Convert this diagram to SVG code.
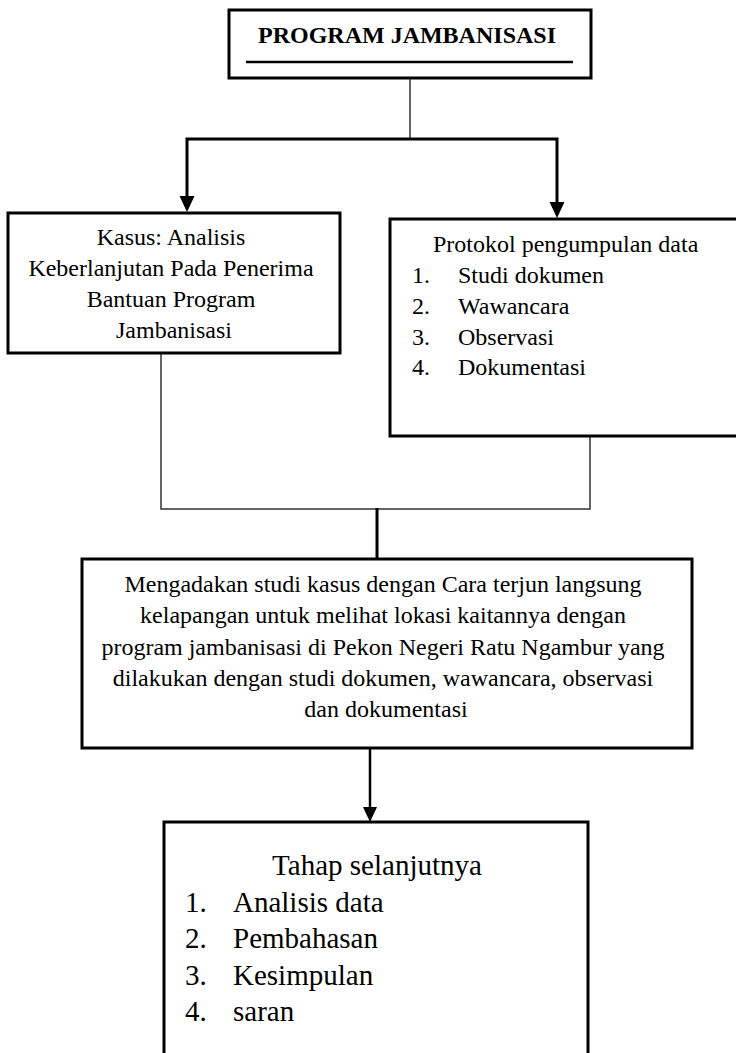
<svg xmlns="http://www.w3.org/2000/svg" width="736" height="1053" viewBox="0 0 736 1053">
<defs>
<style>
.box{fill:#fff;stroke:#000;stroke-width:3}
.t{font-family:"Liberation Serif","Times New Roman",serif;font-size:24px;fill:#000}
.tb{font-family:"Liberation Serif","Times New Roman",serif;font-size:24px;font-weight:bold;fill:#000}
.tl{font-family:"Liberation Serif","Times New Roman",serif;font-size:29px;fill:#000}
.thin{fill:none;stroke:#333;stroke-width:1.5}
.thick{fill:none;stroke:#000;stroke-width:3}
</style>
<marker id="ah" markerWidth="6" markerHeight="6" refX="5" refY="3" orient="auto" markerUnits="strokeWidth">
<path d="M0,0 L5,3 L0,6 Z" fill="#000"/>
</marker>
</defs>
<rect width="736" height="1053" fill="#fff"/>
<g id="connectors">
<line class="thin" x1="410" y1="62" x2="410" y2="140"/>
<polyline class="thick" points="187,196 187,139 557,139 557,202"/>
<path d="M179.5,196 L194.5,196 L187,212 Z" fill="#000"/>
<path d="M549.5,202 L564.5,202 L557,218 Z" fill="#000"/>
<polyline class="thin" points="161,353 161,509 590,509 590,436"/>
<line class="thick" x1="377" y1="508" x2="377" y2="559"/>
<line x1="370" y1="748" x2="370" y2="808" stroke="#000" stroke-width="2.5"/>
<path d="M363,807 L377,807 L370,822 Z" fill="#000"/>
</g>
<g id="node-program">
<rect class="box" x="229" y="10" width="362" height="68"/>
<text class="tb" x="407" y="43" text-anchor="middle">PROGRAM JAMBANISASI</text>
<line x1="246" y1="62" x2="573" y2="62" stroke="#000" stroke-width="2.5"/>
</g>
<g id="node-kasus">
<rect class="box" x="8" y="213" width="332" height="140"/>
<text class="t" text-anchor="middle">
<tspan x="174" y="245">Kasus: Analisis</tspan>
<tspan x="174" y="276">Keberlanjutan Pada Penerima</tspan>
<tspan x="174" y="307">Bantuan Program</tspan>
<tspan x="174" y="338">Jambanisasi</tspan>
</text>
</g>
<g id="node-protokol">
<rect class="box" x="390" y="219" width="360" height="217"/>
<text class="t" x="433" y="252">Protokol pengumpulan data</text>
<text class="t"><tspan x="412" y="283">1.</tspan><tspan x="458" y="283">Studi dokumen</tspan></text>
<text class="t"><tspan x="412" y="314">2.</tspan><tspan x="458" y="314">Wawancara</tspan></text>
<text class="t"><tspan x="412" y="345">3.</tspan><tspan x="458" y="345">Observasi</tspan></text>
<text class="t"><tspan x="412" y="375">4.</tspan><tspan x="458" y="375">Dokumentasi</tspan></text>
</g>
<g id="node-studi-kasus">
<rect class="box" x="82" y="559" width="610" height="189"/>
<text class="t" text-anchor="middle">
<tspan x="386" y="592">Mengadakan studi kasus dengan Cara terjun langsung</tspan>
<tspan x="386" y="623">kelapangan untuk melihat lokasi kaitannya dengan</tspan>
<tspan x="386" y="655">program jambanisasi di Pekon Negeri Ratu Ngambur yang</tspan>
<tspan x="386" y="686">dilakukan dengan studi dokumen, wawancara, observasi</tspan>
<tspan x="386" y="717">dan dokumentasi</tspan>
</text>
</g>
<g id="node-tahap">
<rect class="box" x="164" y="822" width="424" height="250"/>
<text class="tl" x="377" y="875" text-anchor="middle">Tahap selanjutnya</text>
<text class="tl"><tspan x="185" y="912">1.</tspan><tspan x="233" y="912">Analisis data</tspan></text>
<text class="tl"><tspan x="185" y="948">2.</tspan><tspan x="233" y="948">Pembahasan</tspan></text>
<text class="tl"><tspan x="185" y="985">3.</tspan><tspan x="233" y="985">Kesimpulan</tspan></text>
<text class="tl"><tspan x="185" y="1021">4.</tspan><tspan x="233" y="1021">saran</tspan></text>
</g>
</svg>
